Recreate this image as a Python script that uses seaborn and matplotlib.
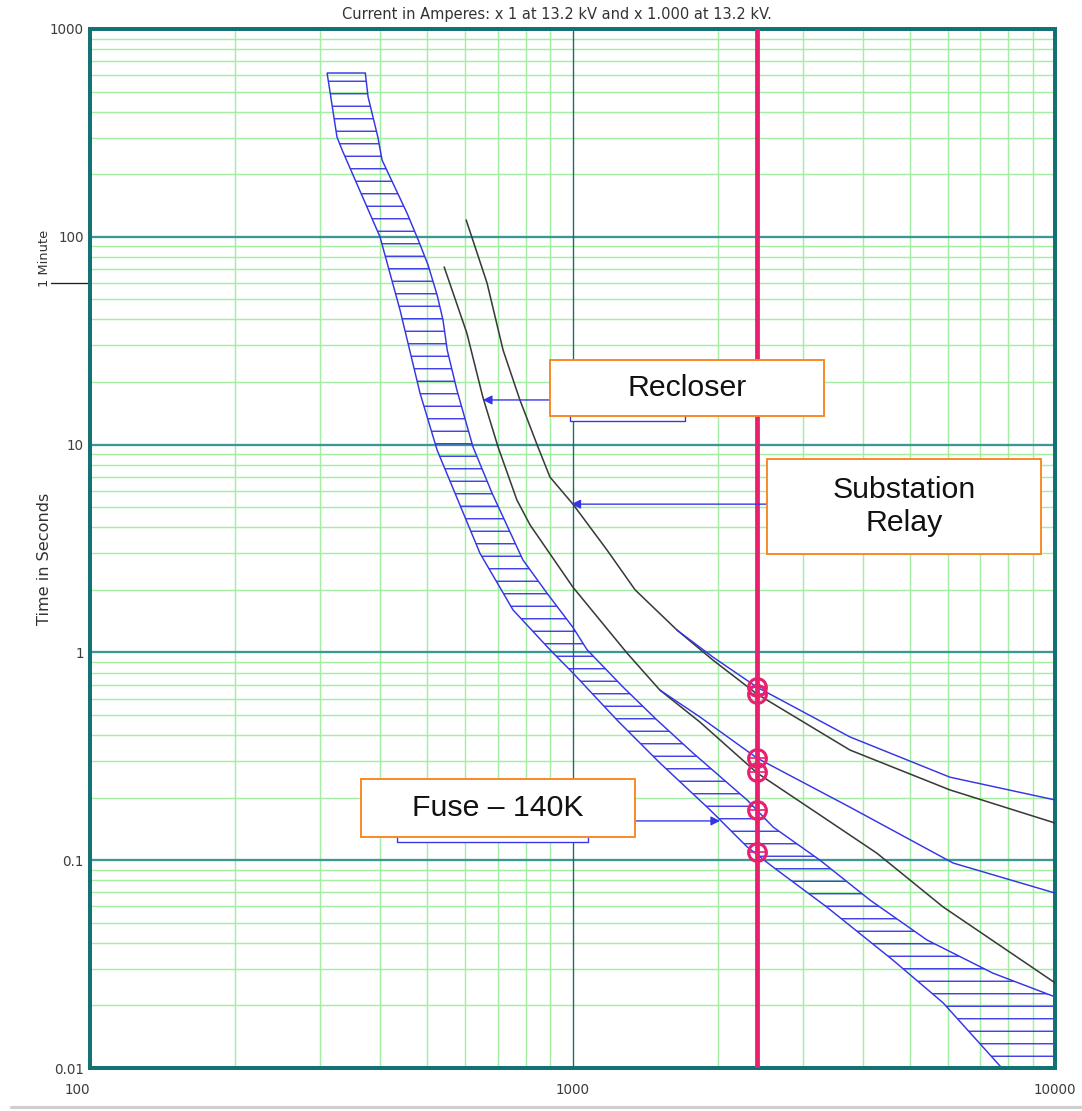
import numpy as np
import matplotlib
matplotlib.use("Agg")
import matplotlib.pyplot as plt
import matplotlib.ticker as mticker
from matplotlib.patches import Rectangle
from matplotlib.transforms import blended_transform_factory
import seaborn as sns

# ---- data (amps, seconds) ----
fuse_min_amps = [310, 325, 333, 399, 439, 483, 524, 643, 753, 898, 1002, 1236, 1517,
                 1926, 2300, 2604, 3366, 4611, 5861, 7760]
fuse_min_sec = [614, 302, 262, 100, 44.5, 17.7, 9.42, 3.0, 1.60, 1.03, 0.796, 0.473, 0.294,
                0.175, 0.116, 0.0927, 0.0595, 0.0331, 0.0206, 0.01]

fuse_clear_amps = [372, 377, 395, 403, 454, 479, 502, 524, 539, 550, 576, 622, 681, 789, 885,
                   1002, 1072, 1272, 1496, 1777, 2300, 2604, 3258, 4136, 5429, 7437, 10000]
fuse_clear_sec = [614, 471, 302, 234, 130, 96.5, 73.1, 52.5, 39.8, 28.5, 18.3, 9.74, 5.85, 2.79,
                  1.93, 1.32, 1.03, 0.682, 0.473, 0.328, 0.195, 0.1445, 0.100, 0.0643, 0.0413,
                  0.0286, 0.022]

relay_amps = [602, 665, 718, 778, 848, 898, 1002, 1179, 1348, 1647, 1954, 2413, 3758, 6053, 10000]
relay_sec = [120.5, 60, 28.5, 16.4, 9.74, 6.98, 5.17, 3.11, 2.00, 1.28, 0.919, 0.63, 0.339,
             0.218, 0.151]

relay_blue_amps = [1647, 1954, 2413, 3758, 6053, 10000]
relay_blue_sec = [1.28, 0.95, 0.68, 0.392, 0.251, 0.195]

recl_amps = [542, 604, 652, 701, 767, 817, 1002, 1297, 1517, 1837, 2413, 3258, 4276, 5861, 10000]
recl_sec = [71.6, 34.4, 16.9, 9.74, 5.41, 4.10, 2.06, 0.993, 0.659, 0.462, 0.263, 0.165,
            0.108, 0.0596, 0.0257]

recl_blue_amps = [1517, 1837, 2413, 3758, 6150, 10000]
recl_blue_sec = [0.659, 0.489, 0.310, 0.180, 0.0969, 0.0695]

fault_amps = 2413
fault_marks_sec = [0.68, 0.63, 0.31, 0.265, 0.174, 0.109]

x_ticks = [100, 1000, 10000]
x_tick_labels = ["100", "1000", "10000"]
y_ticks = [0.01, 0.1, 1, 10, 100, 1000]
y_tick_labels = ["0.01", "0.1", "1", "10", "100", "1000"]
one_minute = 60

title = "Current in Amperes: x 1 at 13.2 kV and x 1.000 at 13.2 kV."

# ---- style ----
sns.set_style("white")
plt.rcParams["font.family"] = ["Liberation Sans", "DejaVu Sans"]
plt.rcParams["hatch.linewidth"] = 1.3

BLUE = "#3535e6"
DARK = "#3a3a3a"
PINK = "#e8206e"
ORANGE = "#f7861e"
TEAL = "#107272"
SMALL = ["DejaVu Sans"]

W, H, DPI = 1082, 1111, 75
fig = plt.figure(figsize=(W / DPI, H / DPI), dpi=DPI)
ax = fig.add_axes([90 / W, 43 / H, 965 / W, 1039 / H])
ax.set_xscale("log")
ax.set_yscale("log")
ax.set_xlim(100, 10000)
ax.set_ylim(0.01, 1000)

# grid: light green minor lines, teal decade lines on top of them
ax.xaxis.set_minor_locator(mticker.LogLocator(base=10, subs=np.arange(2, 10), numticks=60))
ax.yaxis.set_minor_locator(mticker.LogLocator(base=10, subs=np.arange(2, 10), numticks=60))
ax.xaxis.set_minor_formatter(mticker.NullFormatter())
ax.yaxis.set_minor_formatter(mticker.NullFormatter())
ax.set_axisbelow(True)
ax.grid(which="minor", color="#a4eea4", lw=1.4)
for t in y_ticks[1:-1]:
    ax.axhline(t, color="#3f9696", lw=2.2, zorder=1)
for t in x_ticks[1:-1]:
    ax.axvline(t, color="#1b6a6a", lw=1.3, zorder=1)

# fuse band (hatched)
band_x = fuse_min_amps + [10000] + fuse_clear_amps[::-1]
band_y = fuse_min_sec + [0.01] + fuse_clear_sec[::-1]
ax.fill(band_x, band_y, facecolor="none", edgecolor=BLUE, hatch="-", lw=1.4, zorder=2)

# recloser / relay curves
sns.lineplot(x=relay_amps, y=relay_sec, sort=False, estimator=None, color=DARK, lw=1.5, ax=ax, zorder=3)
sns.lineplot(x=recl_amps, y=recl_sec, sort=False, estimator=None, color=DARK, lw=1.5, ax=ax, zorder=3)
sns.lineplot(x=relay_blue_amps, y=relay_blue_sec, sort=False, estimator=None, color=BLUE, lw=1.4, ax=ax, zorder=3)
sns.lineplot(x=recl_blue_amps, y=recl_blue_sec, sort=False, estimator=None, color=BLUE, lw=1.4, ax=ax, zorder=3)

# fault current line and crossing marks
ax.axvline(fault_amps, color=PINK, lw=4.6, zorder=4)
ax.plot([fault_amps] * len(fault_marks_sec), fault_marks_sec, ls="none", marker="o",
        ms=17, mfc="none", mec=PINK, mew=3, zorder=5)
ax.plot([fault_amps] * len(fault_marks_sec), fault_marks_sec, ls="none", marker="_",
        ms=15, mec=PINK, mew=1.6, zorder=5)

# spines / ticks
for s in ax.spines.values():
    s.set_color(TEAL)
    s.set_linewidth(3.8)
ax.set_xticks(x_ticks, labels=x_tick_labels)
ax.set_yticks(y_ticks, labels=y_tick_labels)
ax.tick_params(which="both", length=0, labelsize=13, labelcolor="#3c3c3c")
ax.tick_params(axis="x", pad=14)
ax.tick_params(axis="y", pad=6)
for lab in ax.get_xticklabels() + ax.get_yticklabels():
    lab.set_family(SMALL)
ax.get_xticklabels()[0].set_horizontalalignment("right")

fig.text(557 / W, 1 - 14 / H, title, ha="center", va="center", fontsize=14,
         color="#333333", family=SMALL)

# y-axis captions
ylab = blended_transform_factory(ax.transAxes, ax.transData)
ax.text(-0.047, 0.49, "Time in Seconds", rotation=90, ha="center", va="center",
        fontsize=15.5, color="#333333", transform=ax.transAxes, family=SMALL)
ax.text(-0.047, 79, "1 Minute", rotation=90, ha="center", va="center",
        fontsize=12.5, color="#333333", transform=ylab, family=SMALL)
ax.plot([-0.04, 0], [one_minute, one_minute], color="#222222", lw=1.3, transform=ylab, clip_on=False)

# old label frames peeking out from under the callouts
ax.add_patch(Rectangle((0.4974, 0.6227), 0.1192, 0.05, transform=ax.transAxes,
                       facecolor="white", edgecolor=BLUE, lw=1.3, zorder=6))
ax.add_patch(Rectangle((0.3181, 0.2175), 0.1979, 0.05, transform=ax.transAxes,
                       facecolor="white", edgecolor=BLUE, lw=1.3, zorder=6))

# callout boxes
boxes = [
    ((0.4767, 0.6275), 0.2839, 0.0539, "Recloser"),
    ((0.7016, 0.4947), 0.2839, 0.0914, "Substation\nRelay"),
    ((0.2808, 0.2223), 0.2840, 0.0559, "Fuse \u2013 140K"),
]
for (x0, y0), w, h, label in boxes:
    ax.add_patch(Rectangle((x0, y0), w, h, transform=ax.transAxes, facecolor="white",
                           edgecolor=ORANGE, lw=1.8, zorder=7))
    ax.text(x0 + w / 2, y0 + h / 2, label, transform=ax.transAxes, ha="center", va="center",
            fontsize=29, color="#111111", linespacing=1.2, zorder=8)

# callout arrows
arrow = dict(arrowstyle="-|>", color=BLUE, lw=1.3, mutation_scale=18, shrinkA=0, shrinkB=0)
ax.annotate("", xy=(652, 16.4), xytext=(898, 16.4), arrowprops=arrow, zorder=6)
ax.annotate("", xy=(995, 5.17), xytext=(2530, 5.17), arrowprops=arrow, zorder=6)
ax.annotate("", xy=(2022, 0.1545), xytext=(1348, 0.1545), arrowprops=arrow, zorder=6)

# screenshot edge line at the very bottom
fig.add_artist(plt.Line2D([0.01, 1], [1 - 1107 / H] * 2, color="#cfcfcf", lw=3))

fig.savefig("out.png", dpi=DPI)
